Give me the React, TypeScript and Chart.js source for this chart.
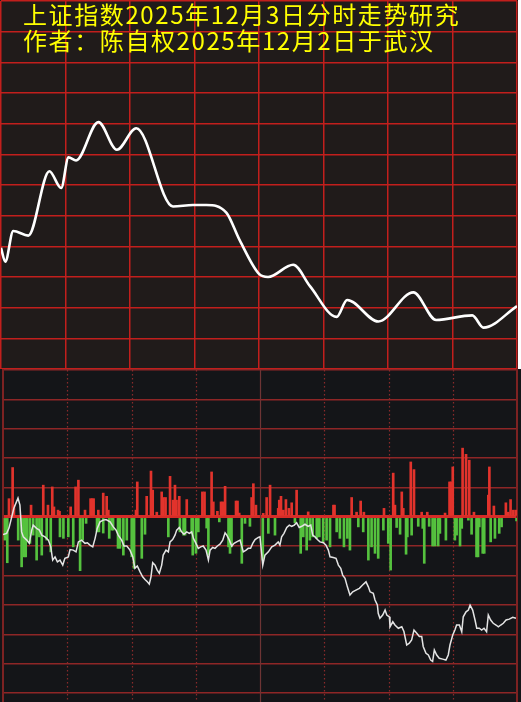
import React, { useEffect, useRef } from "react";
import { Chart, registerables } from "chart.js";

Chart.register(...registerables);

// ---------- text ----------
const titleLines = ["上证指数2025年12月3日分时走势研究", "作者：陈自权2025年12月2日于武汉"];

// ---------- top panel: forecast curve (minutes since open, % change) ----------
const forecastMinutes = [0, 2.0, 5.7, 12.7, 22.5, 28.0, 31.4, 34.9, 45.3, 53.9, 62.9, 80.0, 89.3, 95.5, 104.8, 111.0, 120.0, 124.2, 135.9, 143.7, 156.1, 161.0, 175.5, 191.8, 202.4, 219.2, 224.4, 240];
const forecastPct = [-0.41, -0.5, -0.3, -0.33, 0.09, -0.02, 0.18, 0.16, 0.41, 0.23, 0.37, -0.14, -0.13, -0.13, -0.18, -0.36, -0.58, -0.6, -0.52, -0.66, -0.86, -0.75, -0.89, -0.7, -0.88, -0.85, -0.93, -0.79];

// ---------- bottom panel: actual intraday (minute, value in grid units) ----------
const actualLine: [number, number][] = [
  [0, -0.6], [1.7, -0.56], [2.8, -0.38], [5.1, 0.3], [7.0, 0.64], [7.9, 0.4], [8.7, -0.51], [9.5, -0.68], [11.1, -0.79], [12.3, -0.9],
  [13.4, -0.45], [14.1, -0.28], [15.7, -0.39], [17.0, -0.45], [18.1, -0.62], [19.6, -0.68], [21.2, -0.79], [22.3, -1.02], [23.2, -1.47], [24.3, -1.36],
  [25.4, -1.53], [26.6, -1.47], [27.9, -1.64], [28.9, -1.41], [30.5, -1.36], [31.3, -1.11], [32.8, -1.13], [34.1, -1.19], [35.2, -0.85], [36.7, -0.79],
  [38.3, -0.9], [39.4, -0.88], [40.6, -0.96], [41.9, -1.02], [43.0, -0.73], [44.0, -0.39], [45.3, -0.17], [46.8, -0.11], [48.1, -0.09], [50.0, -0.17],
  [51.5, -0.34], [52.8, -0.45], [53.8, -0.62], [55.4, -0.79], [56.5, -0.99], [57.8, -0.99], [59.3, -1.13], [60.6, -1.36], [61.6, -1.75], [62.7, -1.67],
  [64.0, -1.87], [65.2, -2.04], [66.3, -2.13], [67.4, -2.21], [68.3, -2.29], [69.1, -2.04], [69.9, -1.56], [71.0, -1.64], [72.0, -1.81], [73.0, -1.92],
  [74.1, -1.64], [74.8, -1.3], [76.1, -1.13], [77.2, -1.19], [78.0, -0.85], [79.2, -0.77], [80.3, -0.62], [81.1, -0.45], [82.3, -0.36], [83.4, -0.51],
  [84.5, -0.59], [85.8, -0.51], [87.0, -0.56], [88.1, -0.51], [88.9, -0.73], [90.1, -0.9], [91.2, -1.07], [92.3, -1.02], [93.5, -0.99], [94.8, -1.13],
  [95.9, -1.47], [96.7, -1.13], [97.9, -1.04], [99.0, -1.07], [100.1, -0.99], [101.3, -0.93], [102.6, -0.79], [103.7, -0.54], [104.5, -0.62], [105.7, -0.79],
  [106.8, -0.99], [107.9, -0.9], [109.1, -0.85], [110.7, -0.79], [112.2, -1.19], [113.5, -1.13], [114.5, -1.07], [115.6, -1.07], [116.6, -0.9], [117.7, -0.77],
  [119.2, -0.7], [120.0, -0.68], [121.3, -1.64], [122.3, -1.3], [123.9, -1.19], [125.5, -1.02], [127.0, -0.96], [128.5, -0.85], [129.3, -0.96], [130.1, -0.68],
  [131.2, -0.56], [132.5, -0.36], [133.7, -0.28], [134.8, -0.32], [136.0, -0.28], [137.1, -0.2], [138.3, -0.36], [139.5, -0.32], [141.0, -0.25], [142.5, -0.32],
  [143.7, -0.28], [144.6, -0.62], [145.7, -0.68], [146.8, -0.77], [148.0, -0.85], [149.6, -0.88], [150.8, -0.96], [151.9, -1.13], [152.7, -1.36], [154.2, -1.38],
  [155.5, -1.41], [156.6, -1.64], [157.7, -1.75], [158.6, -1.98], [159.7, -2.09], [160.8, -2.38], [162.0, -2.66], [163.3, -2.55], [164.8, -2.49], [166.4, -2.43],
  [167.9, -2.32], [169.5, -2.21], [170.6, -2.38], [171.4, -2.55], [172.9, -2.6], [173.7, -2.83], [174.8, -3.0], [175.2, -3.28], [176.0, -3.45], [177.3, -3.34],
  [178.4, -3.17], [179.2, -3.34], [180.4, -3.4], [180.7, -3.74], [182.0, -3.57], [183.0, -3.68], [184.6, -3.79], [186.2, -3.74], [187.2, -3.9], [188.5, -4.36],
  [189.7, -4.3], [190.8, -4.19], [191.9, -3.85], [193.2, -3.96], [194.4, -4.07], [195.5, -4.07], [196.2, -4.41], [197.5, -4.64], [198.6, -4.7], [199.7, -4.87],
  [200.6, -4.92], [201.4, -4.53], [202.5, -4.7], [203.7, -4.81], [205.3, -4.84], [206.8, -4.87], [207.9, -4.7], [208.7, -4.36], [210.0, -4.02], [211.0, -3.85],
  [211.8, -3.68], [213.1, -3.68], [214.2, -3.91], [214.9, -3.4], [216.2, -3.23], [217.3, -3.17], [218.1, -3.0], [219.3, -3.17], [220.4, -3.51], [221.2, -3.79],
  [222.4, -3.79], [223.5, -3.85], [224.6, -3.79], [225.8, -3.91], [226.6, -3.34], [227.7, -3.51], [228.9, -3.62], [230.2, -3.68], [231.3, -3.74], [232.4, -3.68],
  [233.6, -3.62], [234.9, -3.51], [236.4, -3.48], [238.0, -3.42], [239.5, -3.45],
];

const redBars: [number, number][] = [
  [2.8, 0.62], [4.5, 1.68], [5.1, 0.4], [13.1, 0.4], [18.8, 1.08], [21.0, 0.4], [23.0, 1.02], [23.8, 0.34], [25.7, 0.23], [26.4, 0.19],
  [31.6, 0.34], [33.9, 1.02], [35.2, 1.25], [38.3, 0.23], [40.9, 0.62], [41.6, 0.62], [42.3, 0.62], [44.5, 0.23], [46.8, 0.81], [48.4, 0.7],
  [49.2, 0.23], [62.1, 0.23], [62.7, 1.19], [67.1, 0.7], [69.1, 1.56], [69.9, 0.91], [71.8, 0.16], [74.1, 0.85], [74.9, 0.66], [75.9, 0.66],
  [78.0, 1.38], [79.4, 0.57], [80.3, 1.08], [81.0, 0.57], [82.3, 0.7], [85.8, 0.59], [93.1, 0.85], [94.1, 0.85], [97.4, 1.53], [98.2, 0.51],
  [100.1, 0.19], [101.8, 0.51], [102.6, 0.51], [103.7, 1.04], [108.8, 0.54], [109.5, 0.54], [110.3, 0.13], [116.1, 0.66], [116.9, 1.13], [118.1, 0.4],
  [121.5, 0.12], [123.1, 0.66], [124.7, 1.08], [128.5, 0.29], [129.0, 0.57], [129.8, 0.7], [130.9, 0.23], [132.1, 0.59], [133.5, 0.29], [134.8, 0.48],
  [137.1, 0.91], [142.5, 0.17], [154.3, 0.4], [154.8, 0.4], [162.8, 0.66], [165.1, 0.16], [167.0, 0.54], [168.5, 0.16], [177.9, 0.29], [182.2, 1.49],
  [183.0, 0.4], [186.2, 0.85], [186.9, 0.29], [190.4, 1.87], [191.9, 1.61], [195.5, 0.16], [198.1, 0.16], [206.4, 0.13], [208.5, 1.19], [209.2, 1.19],
  [210.0, 1.7], [214.6, 2.34], [216.2, 2.13], [217.7, 1.93], [219.9, 0.16], [226.6, 0.74], [227.1, 1.7], [229.2, 0.37], [234.8, 0.48], [235.9, 0.16],
  [237.0, 0.59], [238.3, 0.23], [239.5, 0.23],
];

const greenBars: [number, number][] = [
  [0.9, -0.79], [2.0, -1.56], [7.1, -0.79], [8.7, -1.7], [9.9, -1.36], [10.6, -1.36], [11.3, -0.85], [12.6, -0.9], [14.1, -0.62], [15.7, -1.47],
  [17.0, -0.68], [18.1, -1.3], [20.4, -0.79], [22.3, -1.19], [26.6, -0.68], [28.2, -0.73], [30.5, -0.68], [32.8, -1.02], [36.0, -1.83], [37.2, -0.79],
  [38.8, -0.22], [43.9, -0.51], [44.8, -0.51], [46.8, -0.55], [49.6, -0.73], [50.7, -0.45], [51.4, -0.45], [53.7, -1.07], [54.6, -1.07], [56.2, -1.3],
  [57.8, -0.79], [60.1, -1.36], [61.2, -1.75], [64.8, -1.41], [66.3, -0.59], [77.2, -0.68], [82.6, -0.51], [84.3, -0.62], [85.0, -0.62], [88.1, -0.56],
  [88.6, -1.3], [90.1, -1.24], [91.2, -0.51], [95.1, -0.38], [95.9, -1.3], [101.0, -0.17], [105.3, -1.02], [106.0, -1.24], [106.7, -1.02], [111.5, -1.58],
  [113.0, -0.22], [115.3, -0.32], [121.3, -1.47], [123.9, -0.56], [127.0, -0.62], [136.3, -0.2], [139.0, -1.24], [140.2, -0.68], [141.8, -1.13], [143.3, -0.79],
  [144.6, -0.68], [146.5, -0.73], [147.7, -0.68], [149.5, -0.85], [151.1, -0.79], [152.7, -1.02], [155.8, -0.51], [157.3, -0.73], [159.2, -1.02], [160.8, -0.73],
  [162.0, -1.13], [165.9, -0.34], [168.2, -0.51], [170.6, -1.47], [172.1, -1.02], [173.7, -1.24], [175.2, -1.41], [177.6, -0.45], [179.9, -0.9], [181.0, -1.81],
  [183.8, -0.36], [185.4, -0.59], [188.2, -1.27], [188.8, -0.68], [190.8, -0.62], [193.9, -0.32], [196.0, -0.39], [196.7, -1.58], [199.0, -0.32], [200.6, -0.99],
  [201.7, -0.99], [203.2, -0.99], [204.0, -0.56], [206.8, -0.79], [211.0, -0.79], [211.8, -0.62], [213.4, -0.99], [214.2, -0.39], [217.3, -0.11], [218.8, -0.59],
  [221.1, -1.36], [221.8, -1.36], [222.4, -0.34], [224.0, -1.24], [224.7, -1.24], [227.7, -0.85], [229.7, -0.73], [231.7, -0.56], [232.8, -0.34], [239.8, -0.14],
];

const timeGridMinutes = [30, 60, 90, 120, 150, 180, 210];

const toXY = (pairs: [number, number][]) => pairs.map(([x, y]) => ({ x, y }));

const bottomFramePlugin = {
  id: "bottomFrame",
  beforeDatasetsDraw(chart: any) {
    const { ctx, chartArea, scales } = chart;
    const xs = scales.x;
    ctx.save();
    ctx.lineWidth = 1.2;
    timeGridMinutes.forEach((m) => {
      const px = Math.round(xs.getPixelForValue(m)) + 0.5;
      ctx.beginPath();
      if (m === 120) {
        ctx.setLineDash([]);
        ctx.strokeStyle = "#6e3434";
      } else {
        ctx.setLineDash([1.5, 2.5]);
        ctx.strokeStyle = "#8a2a2a";
      }
      ctx.moveTo(px, chartArea.top);
      ctx.lineTo(px, chartArea.bottom);
      ctx.stroke();
    });
    ctx.setLineDash([]);
    ctx.strokeStyle = "#7d2222";
    ctx.lineWidth = 2;
    [chartArea.left, chartArea.right].forEach((px: number) => {
      ctx.beginPath();
      ctx.moveTo(px, 0);
      ctx.lineTo(px, chart.height);
      ctx.stroke();
    });
    ctx.restore();
  },
};

export default function App() {
  const topRef = useRef<HTMLCanvasElement>(null);
  const botRef = useRef<HTMLCanvasElement>(null);

  useEffect(() => {
    const topChart = new Chart(topRef.current as HTMLCanvasElement, {
      type: "line",
      data: {
        datasets: [
          {
            data: forecastMinutes.map((m, i) => ({ x: m, y: forecastPct[i] })),
            borderColor: "#ffffff",
            borderWidth: 2.6,
            pointRadius: 0,
            cubicInterpolationMode: "monotone",
            fill: false,
          },
        ],
      },
      options: {
        responsive: false,
        animation: false,
        devicePixelRatio: 1,
        layout: { padding: { left: 1, right: 1, top: 1, bottom: 0 } },
        plugins: { legend: { display: false }, tooltip: { enabled: false } },
        scales: {
          x: {
            type: "linear",
            min: 0,
            max: 240,
            ticks: { stepSize: 30, display: false },
            grid: { color: "#c21f1c", lineWidth: 1.5, drawTicks: false },
            border: { display: false },
          },
          y: {
            min: -1.2,
            max: 1.2,
            ticks: { stepSize: 0.2, display: false },
            grid: { color: "#c21f1c", lineWidth: 1.5, drawTicks: false },
            border: { display: false },
          },
        },
      },
    });

    const botChart = new Chart(botRef.current as HTMLCanvasElement, {
      type: "bar",
      data: {
        datasets: [
          {
            type: "line",
            data: toXY(actualLine),
            borderColor: "#e4e4e4",
            borderWidth: 1.5,
            pointRadius: 0,
            tension: 0,
            order: 0,
          } as any,
          {
            type: "bar",
            data: toXY(redBars),
            backgroundColor: "#e2332c",
            barThickness: 2,
            grouped: false,
            order: 1,
          },
          {
            type: "bar",
            data: toXY(greenBars),
            backgroundColor: "#55c23e",
            barThickness: 2,
            grouped: false,
            order: 1,
          },
        ],
      },
      options: {
        responsive: false,
        animation: false,
        devicePixelRatio: 1,
        layout: { padding: { left: 3, right: 4, top: 1, bottom: 0 } },
        plugins: { legend: { display: false }, tooltip: { enabled: false } },
        scales: {
          x: {
            type: "linear",
            min: 0,
            max: 240,
            offset: false,
            ticks: { display: false },
            grid: { display: false, drawTicks: false },
            border: { display: false },
          },
          y: {
            min: -6.3,
            max: 5,
            ticks: { stepSize: 1, display: false, includeBounds: false },
            grid: {
              drawTicks: false,
              color: (c: any) => (c.tick && c.tick.value === 0 ? "#d62b27" : "#8e2626"),
              lineWidth: (c: any) => (c.tick && c.tick.value === 0 ? 3 : 1.6),
            },
            border: { display: false },
          },
        },
      },
      plugins: [bottomFramePlugin],
    });

    return () => {
      topChart.destroy();
      botChart.destroy();
    };
  }, []);

  return (
    <div style={{ position: "fixed", left: 0, top: 0, width: 521, height: 702, background: "#ffffff", overflow: "hidden" }}>
      <canvas
        ref={topRef}
        width={518}
        height={369}
        style={{ position: "absolute", left: 0, top: 0, width: 518, height: 369, background: "#201b1a" }}
      />
      <canvas
        ref={botRef}
        width={521}
        height={333}
        style={{ position: "absolute", left: 0, top: 369, width: 521, height: 333, background: "#141518" }}
      />
      <div
        style={{
          position: "absolute",
          left: 23,
          top: 1,
          color: "#ffff00",
          fontFamily: '"Noto Sans CJK SC", sans-serif',
          fontSize: 24,
          lineHeight: "26px",
          letterSpacing: "1.6px",
          whiteSpace: "pre",
        }}
      >
        {titleLines.map((t) => (
          <div key={t}>{t}</div>
        ))}
      </div>
    </div>
  );
}
